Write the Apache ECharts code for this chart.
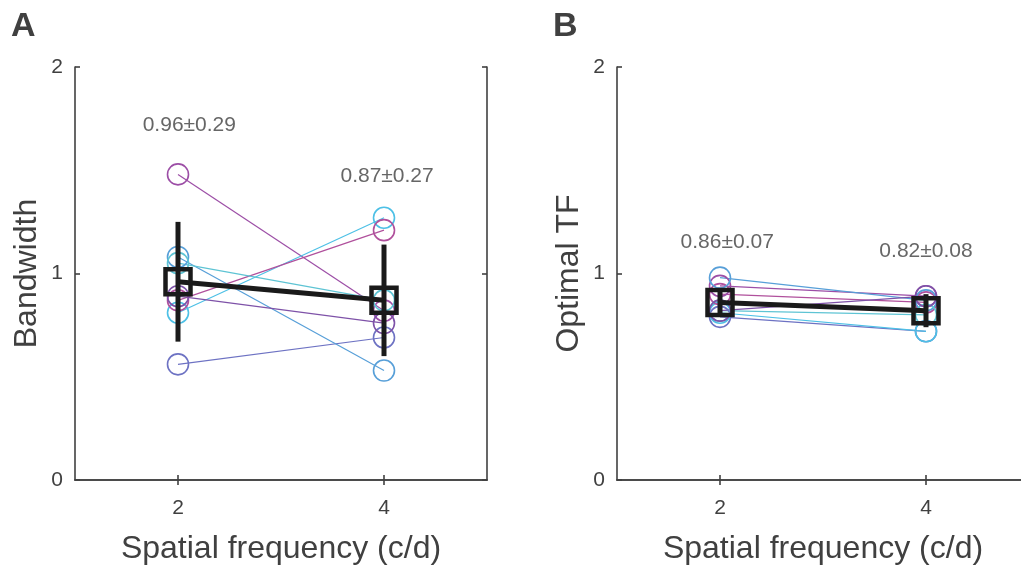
<!DOCTYPE html>
<html>
<head>
<meta charset="utf-8">
<script src="https://cdn.jsdelivr.net/npm/echarts@6/dist/echarts.min.js"></script>
<style>html,body{margin:0;padding:0;background:#fff}#c{width:1021px;height:565px}</style>
</head>
<body>
<div id="c"></div>
<script>
// ---- data ----
var freqs = [2, 4];
var subjectColors = ['#9c4ea6', '#6d72c3', '#4dc0e6', '#b0509c', '#579fd8', '#5ec4d4', '#7e52a8'];
// Panel A: bandwidth per subject at 2 and 4 c/d
var bwSubjects = [
  [1.48, 0.82],
  [0.56, 0.69],
  [0.81, 1.27],
  [0.87, 1.21],
  [1.08, 0.53],
  [1.05, 0.87],
  [0.89, 0.76]
];
var bwMean = [0.96, 0.87];
var bwErr = [0.29, 0.27];
var bwText = ['0.96\u00b10.29', '0.87\u00b10.27'];
var bwTextAt = [[2.11, 1.72], [4.03, 1.47]];
// Panel B: optimal TF per subject
var tfSubjects = [
  [0.94, 0.89],
  [0.79, 0.72],
  [0.81, 0.72],
  [0.90, 0.86],
  [0.98, 0.87],
  [0.82, 0.80],
  [0.82, 0.89]
];
var tfMean = [0.86, 0.82];
var tfErr = [0.07, 0.08];
var tfText = ['0.86\u00b10.07', '0.82\u00b10.08'];
var tfTextAt = [[2.07, 1.15], [4.0, 1.11]];
var yTicks = [0, 1, 2];
var xTicks = [2, 4];

// ---- chart ----
var FONT = 'Liberation Sans, Arial, Helvetica, sans-serif';
var AX = '#404040';
var chart = echarts.init(document.getElementById('c'), null, {renderer: 'canvas'});

function xAx(grid, pos, showLabel, name) {
  return {
    type: 'value', gridIndex: grid, position: pos, min: 1, max: 5,
    axisLine: {show: true, lineStyle: {color: AX, width: 1.6}},
    axisTick: {show: true, inside: true, length: 5, customValues: xTicks, lineStyle: {color: AX, width: 1.6}},
    axisLabel: {show: showLabel, customValues: xTicks, margin: 18, fontSize: 21, color: AX, fontFamily: FONT},
    splitLine: {show: false},
    name: name, nameLocation: 'middle', nameGap: 53,
    nameTextStyle: {fontSize: 32, color: AX, fontFamily: FONT}
  };
}
function yAx(grid, pos, showLabel, name) {
  return {
    type: 'value', gridIndex: grid, position: pos, min: 0, max: 2, interval: 1,
    axisLine: {show: true, lineStyle: {color: AX, width: 1.6}},
    axisTick: {show: true, inside: true, length: 5, lineStyle: {color: AX, width: 1.6}},
    axisLabel: {show: showLabel, margin: 12, fontSize: 21, color: AX, fontFamily: FONT},
    splitLine: {show: false},
    name: name, nameLocation: 'middle', nameGap: 32,
    nameTextStyle: {fontSize: 32, color: AX, fontFamily: FONT}
  };
}

function panelSeries(xi, yi, subjects, mean, err, texts, textAt) {
  var s = [];
  subjects.forEach(function (vals, i) {
    var c = subjectColors[i];
    s.push({
      type: 'line', xAxisIndex: xi, yAxisIndex: yi,
      data: freqs.map(function (f, k) { return [f, vals[k]]; }),
      symbol: 'circle', symbolSize: 21, z: 2,
      lineStyle: {color: c, width: 1.2},
      itemStyle: {color: 'rgba(0,0,0,0)', borderColor: c, borderWidth: 1.6},
      silent: true
    });
  });
  s.push({
    type: 'line', xAxisIndex: xi, yAxisIndex: yi,
    data: freqs.map(function (f, k) { return [f, mean[k]]; }),
    symbol: 'rect', symbolSize: 25, z: 5,
    lineStyle: {color: '#1a1a1a', width: 5},
    itemStyle: {color: 'rgba(0,0,0,0)', borderColor: '#1a1a1a', borderWidth: 4.5},
    silent: true
  });
  s.push({
    type: 'custom', xAxisIndex: xi, yAxisIndex: yi, z: 6,
    data: freqs.map(function (f, k) { return [f, mean[k] - err[k], mean[k] + err[k]]; }),
    renderItem: function (params, api) {
      var p1 = api.coord([api.value(0), api.value(1)]);
      var p2 = api.coord([api.value(0), api.value(2)]);
      return {type: 'line', shape: {x1: p1[0], y1: p1[1], x2: p2[0], y2: p2[1]},
        style: {stroke: '#1a1a1a', lineWidth: 5}};
    },
    silent: true
  });
  s.push({
    type: 'scatter', xAxisIndex: xi, yAxisIndex: yi, symbolSize: 0, z: 7,
    data: texts.map(function (t, k) { return {value: [textAt[k][0], textAt[k][1]], name: t}; }),
    label: {show: true, position: 'inside', formatter: '{b}', fontSize: 21, color: AX, fontFamily: FONT},
    silent: true
  });
  return s;
}

var option = {
  animation: false,
  backgroundColor: '#fff',
  textStyle: {fontFamily: FONT},
  grid: [
    {left: 75, top: 67, width: 412, height: 413, outerBoundsMode: 'none', containLabel: false},
    {left: 617, top: 67, width: 412, height: 413, outerBoundsMode: 'none', containLabel: false}
  ],
  xAxis: [
    xAx(0, 'bottom', true, 'Spatial frequency (c/d)'),
    xAx(0, 'top', false, ''),
    xAx(1, 'bottom', true, 'Spatial frequency (c/d)'),
    xAx(1, 'top', false, '')
  ],
  yAxis: [
    yAx(0, 'left', true, 'Bandwidth'),
    yAx(0, 'right', false, ''),
    yAx(1, 'left', true, 'Optimal TF'),
    yAx(1, 'right', false, '')
  ],
  graphic: [
    {type: 'text', left: 11, top: 10, style: {text: 'A', fontSize: 34, fontWeight: 'bold', fill: AX, fontFamily: FONT}},
    {type: 'text', left: 553, top: 10, style: {text: 'B', fontSize: 34, fontWeight: 'bold', fill: AX, fontFamily: FONT}}
  ],
  series: [].concat(
    panelSeries(0, 0, bwSubjects, bwMean, bwErr, bwText, bwTextAt),
    panelSeries(2, 2, tfSubjects, tfMean, tfErr, tfText, tfTextAt)
  )
};
chart.setOption(option);
</script>
</body>
</html>
